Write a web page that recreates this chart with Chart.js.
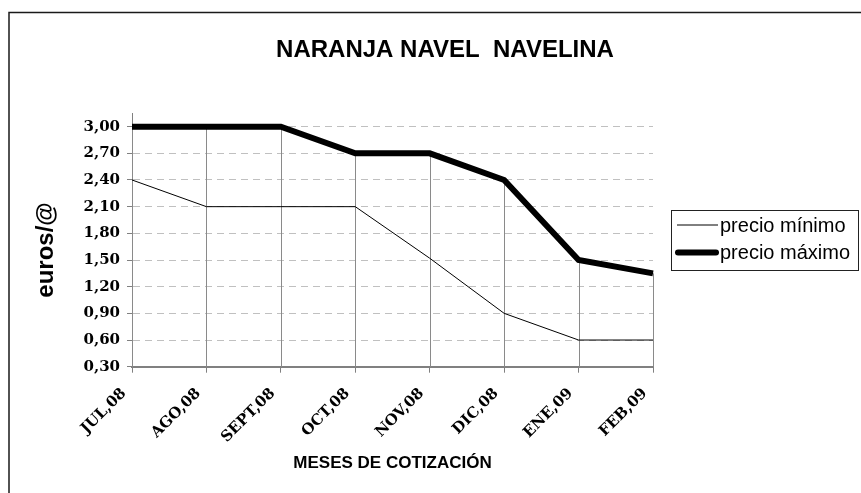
<!DOCTYPE html>
<html lang="es">
<head>
<meta charset="utf-8">
<title>Naranja Navel Navelina</title>
<script src="https://cdn.jsdelivr.net/npm/chart.js@4"></script>
<style>
body { margin: 0; background: #fff; }
canvas { display: block; }
</style>
</head>
<body>
<canvas id="chart" width="861" height="493"></canvas>
<script>
const months = ['JUL,08', 'AGO,08', 'SEPT,08', 'OCT,08', 'NOV,08', 'DIC,08', 'ENE,09', 'FEB,09'];
const minPrice = [2.40, 2.10, 2.10, 2.10, 1.52, 0.90, 0.60, 0.60];
const maxPrice = [3.00, 3.00, 3.00, 2.70, 2.70, 2.40, 1.50, 1.35];
const yTicks = [0.30, 0.60, 0.90, 1.20, 1.50, 1.80, 2.10, 2.40, 2.70, 3.00];
const seriesNames = ['precio mínimo', 'precio máximo'];
const chartTitle = 'NARANJA NAVEL  NAVELINA';
const yTitle = 'euros/@';
const xTitle = 'MESES DE COTIZACIÓN';

const sans = '"Liberation Sans", Arial, sans-serif';
const serif = '"DejaVu Serif", serif';

// outer frame, drop lines, title, y title and the boxed legend
const decor = {
  id: 'decor',
  beforeDraw(chart) {
    const ctx = chart.ctx;
    ctx.save();
    ctx.strokeStyle = '#1a1a1a';
    ctx.lineWidth = 1.5;
    ctx.strokeRect(9, 12.5, 900, 520);
    ctx.restore();
  },
  beforeDatasetsDraw(chart) {
    // drop lines from the upper series to the category axis
    const ctx = chart.ctx;
    const area = chart.chartArea;
    const meta = chart.getDatasetMeta(1);
    ctx.save();
    ctx.strokeStyle = '#8a8a8a';
    ctx.lineWidth = 1;
    meta.data.forEach(function (pt) {
      const x = Math.round(pt.x) + 0.5;
      ctx.beginPath();
      ctx.moveTo(x, pt.y);
      ctx.lineTo(x, area.bottom);
      ctx.stroke();
    });
    ctx.restore();
  },
  afterDraw(chart) {
    const ctx = chart.ctx;
    ctx.save();
    ctx.fillStyle = '#000';
    ctx.textAlign = 'center';
    ctx.textBaseline = 'middle';
    ctx.font = 'bold 24px ' + sans;
    ctx.fillText(chartTitle, 445, 50);

    ctx.save();
    ctx.translate(46, 250);
    ctx.rotate(-Math.PI / 2);
    ctx.font = 'bold 24px ' + sans;
    ctx.fillText(yTitle, 0, 0);
    ctx.restore();

    // legend
    ctx.strokeStyle = '#222';
    ctx.lineWidth = 1;
    ctx.strokeRect(671.5, 210.5, 187, 60);
    const rows = [225, 252.5];
    chart.data.datasets.forEach(function (ds, i) {
      const thick = ds.borderWidth > 2;
      ctx.beginPath();
      ctx.strokeStyle = ds.borderColor;
      ctx.lineWidth = ds.borderWidth;
      ctx.lineCap = thick ? 'round' : 'butt';
      ctx.moveTo(thick ? 678 : 677, rows[i]);
      ctx.lineTo(thick ? 716 : 718, rows[i]);
      ctx.stroke();
      ctx.font = '20px ' + sans;
      ctx.textAlign = 'left';
      ctx.fillStyle = '#000';
      ctx.fillText(ds.label, 720, rows[i] + 1);
    });
    ctx.restore();
  }
};

new Chart('chart', {
  type: 'line',
  data: {
    labels: months,
    datasets: [
      {
        label: seriesNames[0],
        data: minPrice,
        borderColor: '#000',
        borderWidth: 1,
        pointRadius: 0,
        tension: 0
      },
      {
        label: seriesNames[1],
        data: maxPrice,
        borderColor: '#000',
        borderWidth: 6,
        pointRadius: 0,
        tension: 0
      }
    ]
  },
  options: {
    responsive: false,
    animation: false,
    events: [],
    layout: {
      padding: { left: 0, right: 208, top: 113.3, bottom: 0 }
    },
    plugins: {
      legend: { display: false },
      title: { display: false },
      tooltip: { enabled: false }
    },
    scales: {
      x: {
        offset: false,
        grid: {
          drawOnChartArea: false,
          drawTicks: true,
          tickLength: 6,
          tickColor: '#808080'
        },
        border: { color: '#808080', width: 2 },
        ticks: {
          autoSkip: false,
          minRotation: 45,
          maxRotation: 45,
          padding: 12,
          labelOffset: -8,
          color: '#000',
          font: { family: serif, weight: 'bold', size: 15 }
        },
        title: {
          display: true,
          text: xTitle,
          color: '#000',
          font: { family: sans, weight: 'bold', size: 17 },
          padding: { top: 4, bottom: 19 }
        },
        afterFit: function (scale) { scale.height = 126.3; }
      },
      y: {
        min: 0.30,
        max: 3.15,
        ticks: {
          padding: 7,
          color: '#000',
          font: { family: serif, weight: 'bold', size: 15 },
          callback: function (v) { return v.toFixed(2).replace('.', ','); }
        },
        afterBuildTicks: function (scale) {
          scale.ticks = yTicks.map(function (v) { return { value: v }; });
        },
        grid: {
          color: '#c0c0c0',
          tickLength: 5,
          tickColor: '#808080',
          tickBorderDash: []
        },
        border: { color: '#808080', width: 1, dash: [7, 5] },
        afterFit: function (scale) { scale.width = 132; }
      }
    }
  },
  plugins: [decor]
});
</script>
</body>
</html>
